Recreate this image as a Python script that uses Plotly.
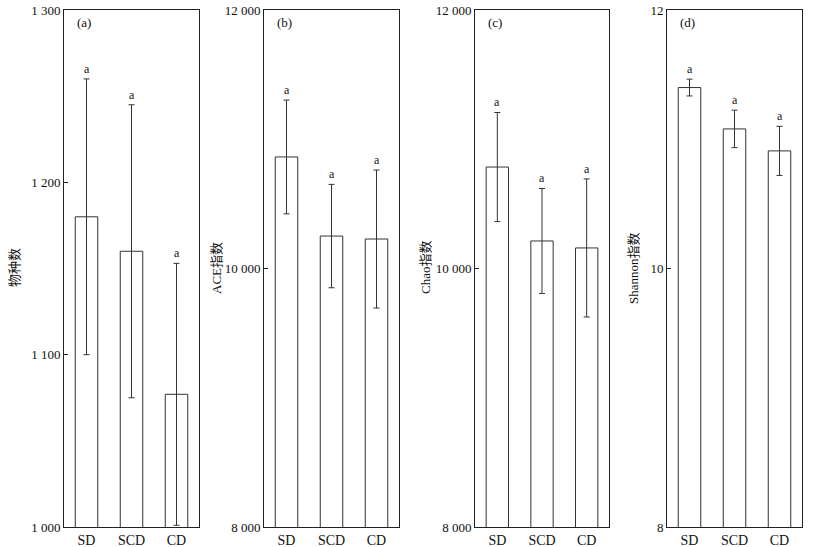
import plotly.graph_objects as go

categories = ["SD", "SCD", "CD"]

species_mean = [1180, 1160, 1077]
species_err = [80, 85, 76]

ace_mean = [10863, 10251, 10228]
ace_err = [440, 400, 534]

chao_mean = [10785, 10213, 10159]
chao_err = [422, 406, 534]

shannon_mean = [11.40, 11.08, 10.91]
shannon_err = [0.065, 0.145, 0.19]

sig_letters = ["a", "a", "a"]

panel_labels = ["(a)", "(b)", "(c)", "(d)"]
y_titles = ["物种数", "ACE指数", "Chao指数", "Shannon指数"]
y_ranges = [[1000, 1300], [8000, 12000], [8000, 12000], [8, 12]]
y_ticks = [[1000, 1100, 1200, 1300], [8000, 10000, 12000], [8000, 10000, 12000], [8, 10, 12]]

means = [species_mean, ace_mean, chao_mean, shannon_mean]
errs = [species_err, ace_err, chao_err, shannon_err]

W, H = 815, 547
px_left = [64, 264, 475, 667]
px_right = [199, 399, 609, 802]
px_top, px_bottom = 10, 527
title_x = [14, 216, 425, 633]

SERIF = "Liberation Serif, Times New Roman, serif"
CJK = "Liberation Serif, Noto Sans CJK SC, serif"


def fx(p):
    return p / W


def fy(p):
    return (H - p) / H


fig = go.Figure()
annotations = []
for i in range(4):
    xa = "x" if i == 0 else f"x{i+1}"
    ya = "y" if i == 0 else f"y{i+1}"
    fig.add_trace(go.Bar(
        x=categories, y=means[i], xaxis=xa, yaxis=ya, width=0.5,
        marker=dict(color="white", line=dict(color="#333333", width=1)),
        error_y=dict(type="data", array=errs[i], color="#333333", thickness=1, width=3),
        showlegend=False,
    ))
    dom_x = [fx(px_left[i]), fx(px_right[i])]
    dom_y = [fy(px_bottom), fy(px_top)]
    xkey = "xaxis" if i == 0 else f"xaxis{i+1}"
    ykey = "yaxis" if i == 0 else f"yaxis{i+1}"
    fig.update_layout(**{
        xkey: dict(domain=dom_x, anchor=ya, showline=True, mirror=True, linecolor="#222222",
                   linewidth=1, ticks="", showgrid=False, zeroline=False, automargin=False,
                   tickfont=dict(family=SERIF, size=14, color="#111111"),
                   range=[-0.5, 2.5]),
        ykey: dict(domain=dom_y, anchor=xa, showline=True, mirror=True, linecolor="#222222",
                   linewidth=1, ticks="inside", ticklen=4, tickcolor="#222222",
                   showgrid=False, zeroline=False, range=y_ranges[i], automargin=False,
                   tickvals=y_ticks[i], tickformat=",d" if i < 3 else "d",
                   tickfont=dict(family=SERIF, size=13, color="#111111")),
    })
    for j, c in enumerate(categories):
        annotations.append(dict(
            x=c, y=means[i][j] + errs[i][j], xref=xa, yref=ya,
            text=sig_letters[j], showarrow=False, yanchor="bottom", yshift=1,
            font=dict(family=SERIF, size=12, color="#111111")))
    annotations.append(dict(
        x=0.08, y=0.995, xref=f"{xa} domain", yref=f"{ya} domain",
        text=panel_labels[i], showarrow=False, xanchor="left", yanchor="top",
        font=dict(family=SERIF, size=13, color="#111111")))
    annotations.append(dict(
        x=fx(title_x[i]), y=fy(268), xref="paper", yref="paper",
        xanchor="center", yanchor="middle",
        text=y_titles[i], showarrow=False, textangle=-90,
        font=dict(family=CJK, size=13, color="#111111")))

fig.update_layout(
    template="none",
    width=W, height=H, margin=dict(l=0, r=0, t=0, b=0, autoexpand=False),
    paper_bgcolor="white", plot_bgcolor="white",
    separators=". ", annotations=annotations, bargap=0.5,
)
fig.write_html("out.html", config={"displayModeBar": False},
               post_script="document.body.style.margin='0';")
